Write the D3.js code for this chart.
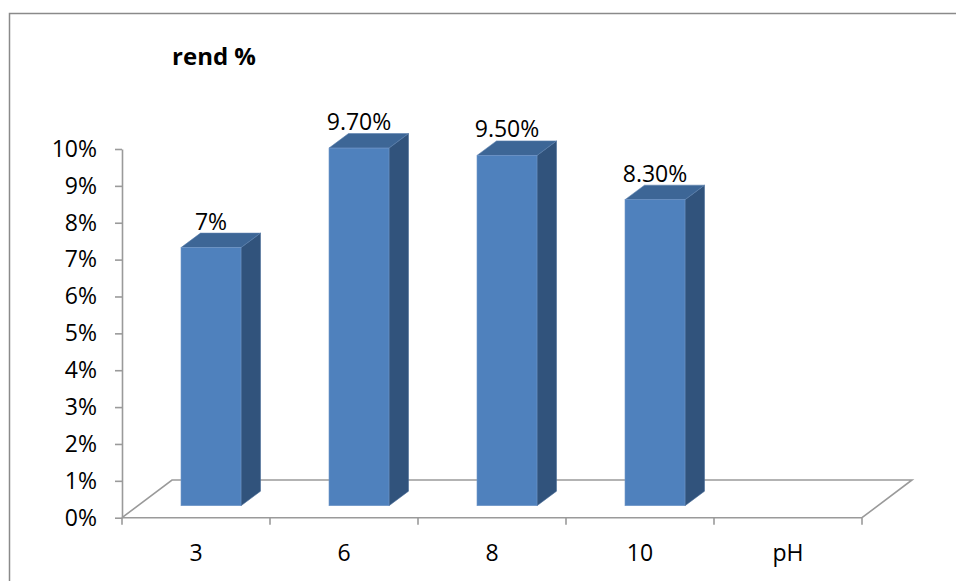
<!DOCTYPE html>
<html>
<head>
<meta charset="utf-8">
<script src="https://cdn.jsdelivr.net/npm/d3@7"></script>
<style>
  html, body { margin: 0; padding: 0; background: #fff; }
  svg { display: block; }
  text { font-family: "Open Sans", "Liberation Sans", sans-serif; fill: #000; }
</style>
</head>
<body>
<svg id="chart" width="956" height="581"></svg>
<script>
// Yield (rend %) measured at each pH
const categories = ["3", "6", "8", "10", "pH"];
const values = [0.07, 0.097, 0.095, 0.083, null];
const valueLabels = ["7%", "9.70%", "9.50%", "8.30%", ""];
const yTicks = [0, 0.01, 0.02, 0.03, 0.04, 0.05, 0.06, 0.07, 0.08, 0.09, 0.10];
const chartTitle = "rend %";

const svg = d3.select("#chart");
const fontSize = "23px";

// Plot geometry: front plane of the floor and the 3D depth offsets
const plotLeft = 122, plotRight = 862, plotBottom = 517.7, plotTop = 149;
const floorDx = 50, floorDy = 37.7;      // depth of the floor
const barOffDx = 15, barOffDy = 12;      // bar front plane inside the floor
const barDx = 19.5, barDy = 14.5;        // depth of each bar
const barWidth = 60;

const x = d3.scaleBand().domain(categories).range([plotLeft, plotRight]).padding(0);
const y = d3.scaleLinear().domain([0, 0.10]).range([plotBottom, plotTop]);

const axisColor = "#9a9a9a";

// Outer chart frame (left and top edges)
svg.append("path")
  .attr("d", "M9.5,600 L9.5,13.5 L960,13.5")
  .attr("fill", "none").attr("stroke", "#8a8a8a").attr("stroke-width", 1.5);

// Title
svg.append("text")
  .attr("x", 214).attr("y", 65)
  .attr("text-anchor", "middle")
  .style("font-weight", "bold").style("font-size", "24px")
  .text(chartTitle);

// Floor
const fx0 = plotLeft, fx1 = plotRight;
svg.append("path")
  .attr("d", `M${fx0},${plotBottom} L${fx0 + floorDx},${plotBottom - floorDy} L${fx1 + floorDx},${plotBottom - floorDy} L${fx1},${plotBottom}`)
  .attr("fill", "none").attr("stroke", axisColor).attr("stroke-width", 1.6);

// Y axis
const yAxis = d3.axisLeft(y)
  .tickValues(yTicks)
  .tickFormat(d3.format(".0%"))
  .tickSizeInner(7).tickSizeOuter(0).tickPadding(18);
const yg = svg.append("g").attr("transform", `translate(${plotLeft},0)`).call(yAxis);
yg.select(".domain").attr("stroke", axisColor).attr("stroke-width", 1.6);
yg.selectAll(".tick line").attr("stroke", axisColor).attr("stroke-width", 1.6);
yg.selectAll(".tick text")
  .style("font-size", fontSize).style("font-family", "'Open Sans', sans-serif")
  .attr("fill", "#000");

// X axis: category labels at band centres, tick marks at band edges
const xAxis = d3.axisBottom(x).tickSize(0).tickPadding(0);
const xg = svg.append("g").attr("transform", `translate(0,${plotBottom})`).call(xAxis);
xg.select(".domain").remove();
xg.selectAll(".tick text")
  .attr("dy", null).attr("y", 43)
  .style("font-size", fontSize).style("font-family", "'Open Sans', sans-serif")
  .attr("fill", "#000");

svg.append("line")
  .attr("x1", plotLeft).attr("x2", plotRight)
  .attr("y1", plotBottom).attr("y2", plotBottom)
  .attr("stroke", axisColor).attr("stroke-width", 1.6);

const edges = categories.map(c => x(c)).concat([x(categories[categories.length - 1]) + x.bandwidth()]);
svg.append("g").selectAll("line").data(edges).join("line")
  .attr("x1", d => d).attr("x2", d => d)
  .attr("y1", plotBottom).attr("y2", plotBottom + 7)
  .attr("stroke", axisColor).attr("stroke-width", 1.6);

// 3D bars
const bars = categories.map((c, i) => ({ c, v: values[i], label: valueLabels[i] }))
  .filter(d => d.v != null);

const bg = svg.append("g");
bars.forEach(d => {
  const cx = x(d.c) + x.bandwidth() / 2 + barOffDx;
  const xl = cx - barWidth / 2, xr = cx + barWidth / 2;
  const yb = y(0) - barOffDy, yt = y(d.v) - barOffDy;
  const g = bg.append("g");
  // side face
  g.append("path")
    .attr("d", `M${xr},${yb} L${xr + barDx},${yb - barDy} L${xr + barDx},${yt - barDy} L${xr},${yt} Z`)
    .attr("fill", "#31537c").attr("stroke", "#4a6d98").attr("stroke-width", 0.6);
  // top face
  g.append("path")
    .attr("d", `M${xl},${yt} L${xl + barDx},${yt - barDy} L${xr + barDx},${yt - barDy} L${xr},${yt} Z`)
    .attr("fill", "#3d6696").attr("stroke", "#5b7fad").attr("stroke-width", 0.6);
  // front face
  g.append("rect")
    .attr("x", xl).attr("y", yt).attr("width", barWidth).attr("height", yb - yt)
    .attr("fill", "#4f81bd").attr("stroke", "#6f96c8").attr("stroke-width", 0.6);
  // value label
  g.append("text")
    .attr("x", cx).attr("y", yt - barDy - 3.5)
    .attr("text-anchor", "middle")
    .style("font-size", fontSize)
    .text(d.label);
});
</script>
</body>
</html>
